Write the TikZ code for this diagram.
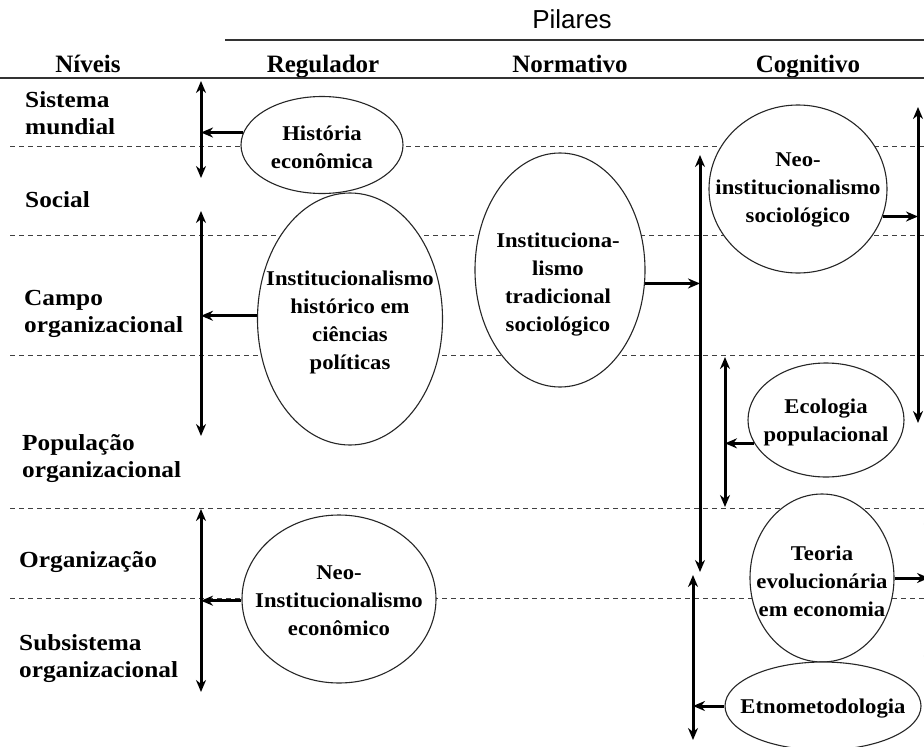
\documentclass[tikz,border=0pt]{standalone}
\usepackage{fontspec}
\setmainfont{Liberation Serif}
\newfontfamily\wideserif[FakeStretch=1.1]{Liberation Serif}
\newfontfamily\ovalserif[FakeStretch=1.08]{Liberation Serif}
\newfontfamily\arialf{Liberation Sans}
\usetikzlibrary{shapes.geometric,arrows.meta}
\begin{document}
\begin{tikzpicture}[x=1pt,y=-1pt,
  oval/.style={ellipse,draw=black!85,line width=1.1pt,fill=white,inner sep=0pt},
  etxt/.style={align=center,inner sep=0pt,font=\ovalserif\bfseries\fontsize{21}{28}\selectfont},
  lbl/.style={anchor=west,align=left,inner sep=0pt,font=\wideserif\bfseries\fontsize{23}{27}\selectfont},
  hdr/.style={anchor=base,inner sep=0pt,font=\bfseries\fontsize{25}{28}\selectfont},
  gridline/.style={line width=0.9pt,black!75,dash pattern=on 5pt off 4pt},
  arr/.style={line width=3pt,-{Stealth[length=12pt,width=10pt]}},
  dbl/.style={line width=3pt,{Stealth[length=12pt,width=10pt]}-{Stealth[length=12pt,width=10pt]}}]
\useasboundingbox (0,0) rectangle (924,747);
\clip (0,0) rectangle (924,747);
\fill[white] (0,0) rectangle (924,747);

% header
\node[anchor=base,inner sep=0pt,font=\arialf\fontsize{26}{30}\selectfont] (pil) at (572,28) {Pilares};
\draw[line width=1.5pt,black!80] (225,40) -- (924,40);
\node[hdr] (hniv) at (88,72) {Níveis};
\node[hdr] (hreg) at (323,72) {Regulador};
\node[hdr] (hnor) at (570,72) {Normativo};
\node[hdr] (hcog) at (808,72) {Cognitivo};
\draw[line width=2pt,black!80] (0,78) -- (924,78);

% grid lines
\draw[gridline] (10,146) -- (924,146);
\draw[gridline] (10,235) -- (924,235);
\draw[gridline] (10,355) -- (924,355);
\draw[gridline] (10,508) -- (924,508);
\draw[gridline] (10,598) -- (924,598);

% level labels
\node[lbl] (lsis) at (25,113) {Sistema\\mundial};
\node[lbl] (lsoc) at (25,200) {Social};
\node[lbl] (lcam) at (24,314) {Campo\\organizacional};
\node[lbl] (lpop) at (22,459) {População\\organizacional};
\node[lbl] (lorg) at (19,562) {Organização};
\node[lbl] (lsub) at (19,659) {Subsistema\\organizacional};

% ellipses
\node[oval,minimum width=162pt,minimum height=97pt] (hist) at (322,145) {};
\node[oval,minimum width=185pt,minimum height=252pt] (ihist) at (350,319) {};
\node[oval,minimum width=170pt,minimum height=234pt] (itrad) at (560,270) {};
\node[oval,minimum width=178pt,minimum height=168pt] (nsoc) at (798,189) {};
\node[oval,minimum width=156pt,minimum height=114pt] (eco) at (826,420) {};
\node[oval,minimum width=144pt,minimum height=168pt] (teo) at (822,578) {};
\node[oval,minimum width=196pt,minimum height=88pt] (etno) at (823,706) {};
\node[oval,minimum width=194pt,minimum height=168pt] (necon) at (339,599) {};

\node[etxt] (histT) at (322,147) {História\\econômica};
\node[etxt] (ihistT) at (350,322) {Institucionalismo\\histórico em\\ciências\\políticas};
\node[etxt] (itradT) at (558,285) {Instituciona-\\lismo\\tradicional\\sociológico};
\node[etxt] (nsocT) at (798,190) {Neo-\\institucionalismo\\sociológico};
\node[etxt] (ecoT) at (826,422) {Ecologia\\populacional};
\node[etxt] (teoT) at (822,581) {Teoria\\evolucionária\\em economia};
\node[etxt] (etnoT) at (823,709) {Etnometodologia};
\node[etxt] (neconT) at (339,601) {Neo-\\Institucionalismo\\econômico};

% vertical double arrows
\coordinate (v1t) at (201,81);  \coordinate (v1b) at (201,178);
\coordinate (v2t) at (201,211); \coordinate (v2b) at (201,436);
\coordinate (v3t) at (201,509); \coordinate (v3b) at (201,692);
\coordinate (v4t) at (700,155); \coordinate (v4b) at (700,572);
\coordinate (v5t) at (725,357); \coordinate (v5b) at (725,507);
\coordinate (v6t) at (693,575); \coordinate (v6b) at (693,740);
\coordinate (v7t) at (918,107); \coordinate (v7b) at (918,423);
\coordinate (v8t) at (929,512); \coordinate (v8b) at (929,668);
\foreach \i in {1,...,8} {\draw[dbl] (v\i t) -- (v\i b);}

% horizontal arrows
\draw[arr] (hist.171) -- (hist.171 -| v1t);
\draw[arr] (ihist.178) -- (ihist.178 -| v2t);
\draw[arr] (necon.181) -- (necon.181 -| v3t);
\draw[arr] (itrad.-9) -- (itrad.-9 -| v4t);
\draw[arr] (eco.198) -- (eco.198 -| v5t);
\draw[arr] (etno.west) -- (etno.west -| v6t);
\draw[arr] (nsoc.-18) -- (nsoc.-18 -| v7t);
\draw[arr] (teo.east) -- (teo.east -| v8t);
\end{tikzpicture}
\end{document}
